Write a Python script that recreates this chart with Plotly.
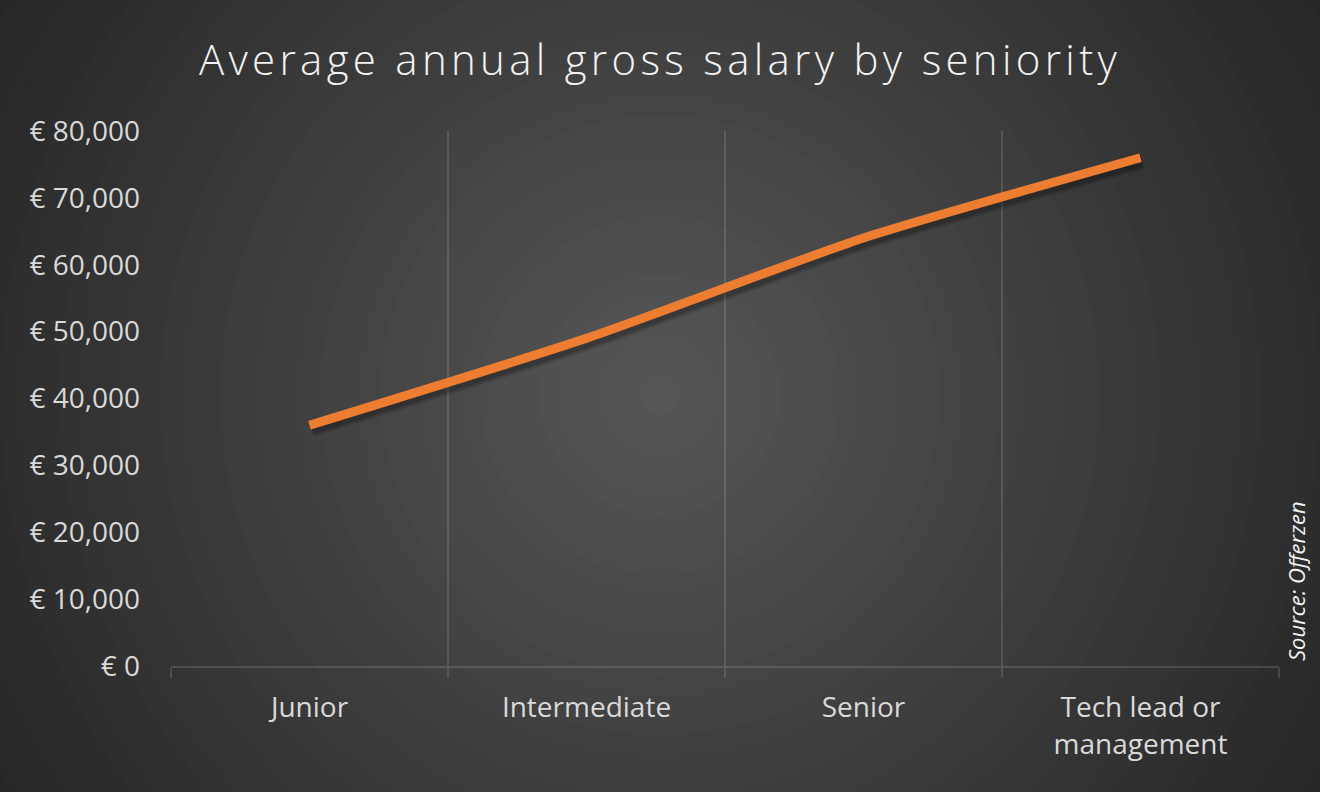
import plotly.graph_objects as go

categories = ["Junior", "Intermediate", "Senior", "Tech lead or<br>management"]
salary = [36000, 49000, 64000, 76000]
y_ticks = [0, 10000, 20000, 30000, 40000, 50000, 60000, 70000, 80000]
y_ticktext = ["€ " + f"{v:,}" for v in y_ticks]

W, H = 1320, 792
L, R, T, B = 171, 41, 131, 126
PW, PH = W - L - R, H - T - B

def px2paper(x, y):
    return (x - L) / PW, (H - B - y) / PH

fig = go.Figure()

# invisible anchor trace on the visible axes
fig.add_trace(go.Scatter(
    x=categories, y=salary, mode="lines", line=dict(color="rgba(0,0,0,0)", width=0),
    hoverinfo="skip", showlegend=False))

# soft shadow traces on offset axes
for w, a in [(16, 0.08), (13, 0.10), (10, 0.14)]:
    fig.add_trace(go.Scatter(
        x=list(range(len(categories))), y=salary, mode="lines",
        line=dict(color=f"rgba(0,0,0,{a})", width=w, shape="spline", smoothing=0.6),
        xaxis="x2", yaxis="y2", hoverinfo="skip", showlegend=False))

# main line
fig.add_trace(go.Scatter(
    x=list(range(len(categories))), y=salary, mode="lines",
    line=dict(color="#ED7D31", width=9, shape="spline", smoothing=0.6),
    xaxis="x3", yaxis="y3", showlegend=False))

# radial gradient background
shapes = []
cx, cy = 660, 395
rmax = 800
n = 40
c0, c1 = 0x57, 0x25
for i in range(n):
    r = rmax * (n - i) / n
    t = (n - i) / n
    v = int(round(c0 + (c1 - c0) * t))
    x0, y0 = px2paper(cx - r, cy + r)
    x1, y1 = px2paper(cx + r, cy - r)
    shapes.append(dict(type="circle", xref="paper", yref="paper",
                       x0=x0, y0=y0, x1=x1, y1=y1,
                       fillcolor=f"rgb({v},{v},{v})", line=dict(width=0),
                       layer="below"))

dx_px, dy_px = 2, 4
xr = [-0.5, len(categories) - 0.5]
xspan = xr[1] - xr[0]
yr = [0, 80000]
yspan = yr[1] - yr[0]
xoff = dx_px / PW * xspan
yoff = dy_px / PH * yspan

grid_c = "rgba(255,255,255,0.13)"
font_fam = "Open Sans, Noto Sans, sans-serif"

fig.update_layout(
    width=W, height=H,
    margin=dict(l=L, r=R, t=T, b=B),
    paper_bgcolor="#252525",
    plot_bgcolor="rgba(0,0,0,0)",
    shapes=shapes,
    title=dict(text="Average annual gross salary by seniority",
               x=0.5, xref="container", xanchor="center",
               y=1 - 60 / H, yref="container", yanchor="middle",
               font=dict(family=font_fam, size=42, color="#f2f2f2", weight=300)),
    xaxis=dict(type="category", range=xr, tickson="boundaries",
               showgrid=True, gridcolor=grid_c, gridwidth=1.5,
               showline=True, linecolor=grid_c, linewidth=1.5,
               ticks="outside", ticklen=10, tickcolor=grid_c, tickwidth=1.5,
               zeroline=False, ticklabelstandoff=16,
               tickfont=dict(family=font_fam, size=28, color="#d9d9d9")),
    yaxis=dict(range=yr, tickmode="array", tickvals=y_ticks, ticktext=y_ticktext,
               showgrid=False, zeroline=False, showline=False,
               ticks="", ticklabelstandoff=30,
               tickfont=dict(family=font_fam, size=28, color="#d9d9d9")),
    xaxis2=dict(range=[xr[0] - xoff, xr[1] - xoff], overlaying="x",
                visible=False),
    yaxis2=dict(range=[yr[0] + yoff, yr[1] + yoff], overlaying="y",
                visible=False),
    xaxis3=dict(range=xr, overlaying="x", visible=False),
    yaxis3=dict(range=yr, overlaying="y", visible=False),
    annotations=[dict(text="Source: Offerzen", textangle=-90,
                      xref="paper", yref="paper",
                      x=px2paper(1296, 0)[0], y=px2paper(0, 581)[1],
                      xanchor="center", yanchor="middle", showarrow=False,
                      font=dict(family=font_fam, size=22, color="#f2f2f2",
                                style="italic"))],
)

post = """
document.body.style.margin = '0';
document.body.style.padding = '0';
var t = document.querySelectorAll('.gtitle');
t.forEach(function(el){ el.style.letterSpacing = '4.3px'; });
"""

fig.write_html("out.html", post_script=post, config={"displayModeBar": False})
